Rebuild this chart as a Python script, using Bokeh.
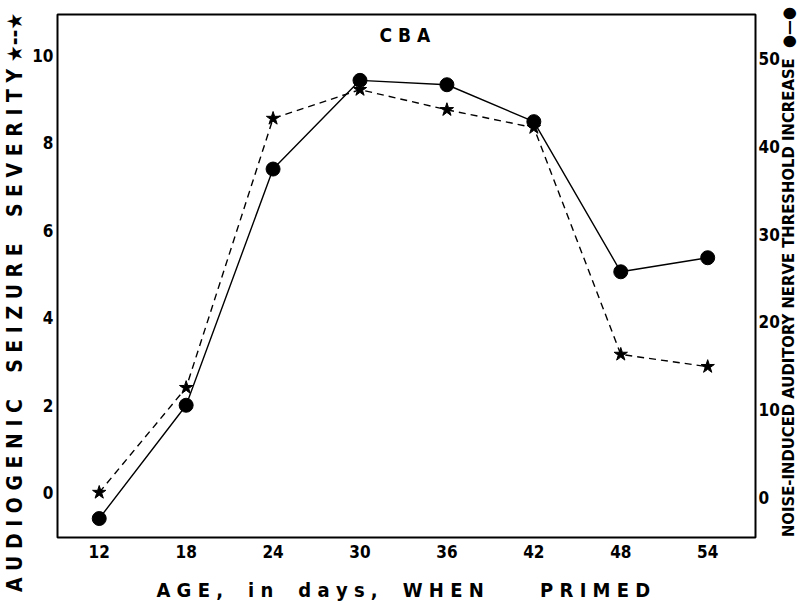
import math
from bokeh.plotting import figure
from bokeh.models import Range1d, LinearAxis, FixedTicker, Label
from bokeh.embed import file_html
from bokeh.resources import INLINE

ages = [12, 18, 24, 30, 36, 42, 48, 54]
severity = [0.0, 2.4, 8.56, 9.22, 8.76, 8.35, 3.16, 2.88]
threshold = [-2.4, 10.5, 37.4, 47.5, 47.0, 42.8, 25.7, 27.3]
x_ticks = [12, 18, 24, 30, 36, 42, 48, 54]
left_ticks = [0, 2, 4, 6, 8, 10]
right_ticks = [0, 10, 20, 30, 40, 50]

FONT = "DejaVu Sans Condensed"
NB = "\u00a0"


def spaced(words, gap=1, wgap=4):
    return (NB * wgap).join((NB * gap).join(w) for w in words)


LEFT_TITLE = spaced(["AUDIOGENIC", "SEIZURE", "SEVERITY"]) + NB + "\u2605--\u2605"
RIGHT_TITLE = "NOISE-INDUCED AUDITORY NERVE THRESHOLD INCREASE" + NB * 2 + "\u25cf\u2014\u25cf"
X_TITLE = spaced(["AGE,", "in", "days,", "WHEN"]) + NB * 9 + spaced(["PRIMED"]) + NB
LEFT_TITLE_AT = 4.35
RIGHT_TITLE_START = -1.02

p = figure(width=810, height=605, output_backend="svg", toolbar_location=None,
           x_range=Range1d(9.12, 57.3), y_range=Range1d(-1.03, 10.94),
           min_border_left=52, min_border_right=55, min_border_top=14, min_border_bottom=68)
p.extra_y_ranges = {"right": Range1d(-4.56, 55.0)}
p.grid.visible = False
p.outline_line_color = "black"
p.outline_line_width = 2
p.background_fill_color = "white"
p.border_fill_color = "white"

p.xaxis.ticker = FixedTicker(ticks=x_ticks)
p.yaxis.ticker = FixedTicker(ticks=left_ticks)

right = LinearAxis(y_range_name="right", ticker=FixedTicker(ticks=right_ticks))
p.add_layout(right, "right")

left_title = LinearAxis(ticker=FixedTicker(ticks=[LEFT_TITLE_AT]),
                        major_label_overrides={LEFT_TITLE_AT: LEFT_TITLE},
                        major_label_orientation="vertical")
p.add_layout(left_title, "left")
right_title = LinearAxis(ticker=FixedTicker(ticks=[RIGHT_TITLE_START]),
                         major_label_overrides={RIGHT_TITLE_START: RIGHT_TITLE},
                         major_label_orientation=math.pi / 2)
p.add_layout(right_title, "right")

for ax in p.xaxis + p.yaxis:
    ax.axis_line_color = None
    ax.major_tick_line_color = None
    ax.minor_tick_line_color = None
    ax.major_tick_out = 0
    ax.major_tick_in = 0
    ax.major_label_text_font = FONT
    ax.major_label_text_font_style = "bold"
    ax.major_label_text_font_size = "17px"
    ax.major_label_text_color = "black"
    ax.major_label_standoff = 3
    ax.axis_label_text_font = FONT
    ax.axis_label_text_font_style = "bold"
    ax.axis_label_text_color = "black"

p.yaxis[0].major_label_standoff = 4
left_title.major_label_text_font_size = "21px"
left_title.major_label_standoff = 2
right_title.major_label_text_font_size = "16.5px"
right_title.major_label_standoff = 6

p.xaxis.major_label_standoff = 7
p.xaxis.axis_label = X_TITLE
p.xaxis.axis_label_text_font_size = "20px"
p.xaxis.axis_label_standoff = 17

p.line(ages, severity, line_color="black", line_width=1.4, line_dash="7 5")
p.scatter(ages, severity, marker="star", size=14, fill_color="black", line_color="black")
p.line(ages, threshold, y_range_name="right", line_color="black", line_width=1.4)
p.scatter(ages, threshold, y_range_name="right", marker="circle", size=14,
          fill_color="black", line_color="black")

p.add_layout(Label(x=33.1, y=10.48, text=NB.join("CBA"), text_font=FONT,
                   text_font_style="bold", text_color="black", text_font_size="19px",
                   text_align="center", text_baseline="middle"))

open("out.html", "w").write(file_html(p, INLINE))
